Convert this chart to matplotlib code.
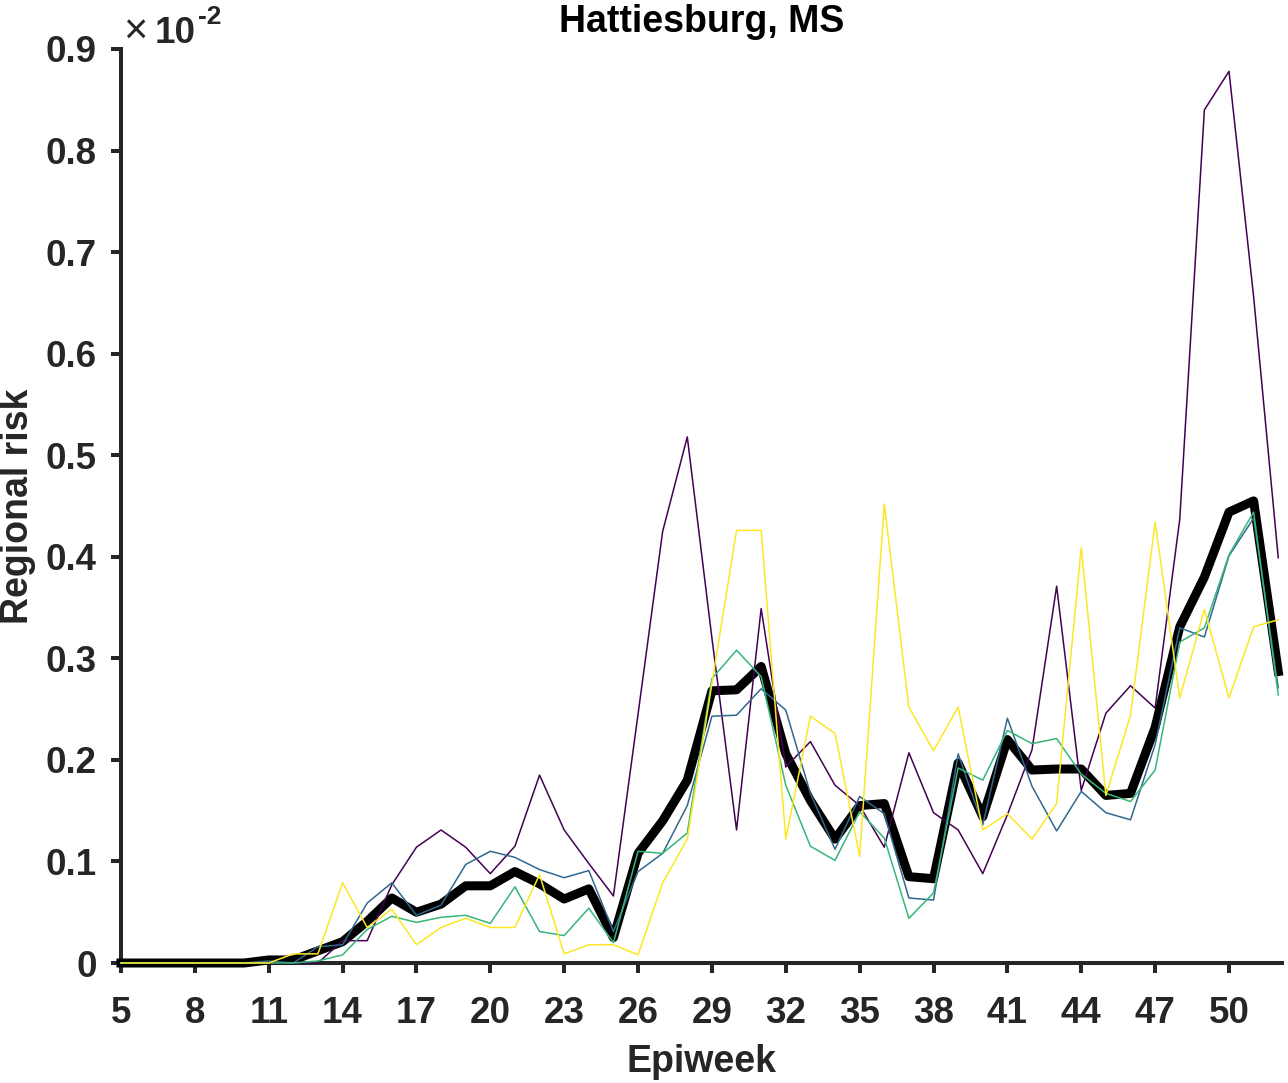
import numpy as np
import matplotlib
matplotlib.use('Agg')
import matplotlib.pyplot as plt

plt.rcParams['font.family'] = ['Liberation Sans', 'DejaVu Sans']
plt.rcParams['font.weight'] = 'bold'

# epiweeks and regional risk (units of 1e-2)
weeks = list(range(5, 53))

mean_risk = [0, 0, 0, 0, 0, 0, 0.003, 0.003, 0.012, 0.021, 0.041, 0.064, 0.050, 0.058,
             0.076, 0.076, 0.090, 0.078, 0.063, 0.073, 0.025, 0.108, 0.140, 0.180,
             0.268, 0.269, 0.292, 0.206, 0.160, 0.122, 0.155, 0.157, 0.085, 0.083,
             0.197, 0.144, 0.220, 0.190, 0.191, 0.191, 0.165, 0.167, 0.232, 0.331,
             0.380, 0.444, 0.455, 0.287]

risk_a = [0, 0, 0, 0, 0, 0, 0, 0, 0, 0.022, 0.022, 0.077, 0.114, 0.131,
          0.114, 0.088, 0.115, 0.185, 0.131, 0.098, 0.066, 0.245, 0.425, 0.518,
          0.320, 0.131, 0.349, 0.193, 0.218, 0.175, 0.155, 0.114, 0.207, 0.148,
          0.131, 0.088, 0.146, 0.210, 0.371, 0.170, 0.246, 0.273, 0.251, 0.437,
          0.840, 0.878, 0.656, 0.399]

risk_b = [0, 0, 0, 0, 0, 0, 0.002, 0, 0.016, 0.018, 0.059, 0.079, 0.047, 0.057,
          0.097, 0.110, 0.104, 0.092, 0.084, 0.091, 0.031, 0.090, 0.108, 0.155,
          0.243, 0.244, 0.270, 0.249, 0.167, 0.112, 0.164, 0.147, 0.064, 0.062,
          0.206, 0.136, 0.241, 0.174, 0.130, 0.169, 0.148, 0.141, 0.215, 0.330,
          0.321, 0.401, 0.438, 0.271]

risk_c = [0, 0, 0, 0, 0, 0, 0, 0, 0.002, 0.008, 0.033, 0.046, 0.040, 0.045,
          0.047, 0.039, 0.075, 0.031, 0.027, 0.054, 0.020, 0.110, 0.108, 0.128,
          0.280, 0.308, 0.282, 0.175, 0.115, 0.101, 0.149, 0.123, 0.044, 0.069,
          0.192, 0.180, 0.229, 0.216, 0.221, 0.186, 0.167, 0.159, 0.190, 0.316,
          0.330, 0.402, 0.444, 0.264]

risk_d = [0, 0, 0, 0, 0, 0, 0, 0.009, 0.009, 0.079, 0.035, 0.053, 0.018, 0.035,
          0.044, 0.035, 0.035, 0.087, 0.009, 0.018, 0.018, 0.008, 0.079, 0.122,
          0.275, 0.426, 0.426, 0.122, 0.243, 0.226, 0.105, 0.452, 0.252, 0.209,
          0.252, 0.131, 0.147, 0.122, 0.157, 0.409, 0.165, 0.244, 0.434, 0.261,
          0.348, 0.261, 0.331, 0.338]

colors = ['#440154', '#31688e', '#35b779', '#fde725']

fig = plt.figure(figsize=(12.88, 10.83), dpi=100)
ax = fig.add_axes([0.0939, 0.1108, 0.9014, 0.844])

ax.plot(weeks, mean_risk, color='black', lw=6.5, clip_on=False, zorder=3,
        solid_joinstyle='round')
for series, c in zip([risk_a, risk_b, risk_c, risk_d], colors):
    ax.plot(weeks, series, color=c, lw=1.1, clip_on=False, zorder=4)

ax.set_xlim(5, 52.15)
ax.set_ylim(0, 0.9)
ax.set_xticks(range(5, 51, 3))
ax.set_yticks(np.arange(0, 0.91, 0.1))
ax.set_yticklabels(['0'] + [f'{v:.1f}' for v in np.arange(0.1, 0.91, 0.1)])

for side in ['top', 'right']:
    ax.spines[side].set_visible(False)
for side in ['left', 'bottom']:
    ax.spines[side].set_linewidth(2.9)
    ax.spines[side].set_color('#262626')

ax.tick_params(direction='out', length=7.5, width=2.9, color='#262626',
               labelsize=26.5, labelcolor='#262626')
ax.tick_params(axis='x', pad=16.5)
ax.tick_params(axis='y', pad=10)

ax.set_xlabel('Epiweek', fontsize=27, fontweight='bold', color='#262626', labelpad=9)
ax.set_ylabel('Regional risk', fontsize=27, fontweight='bold', color='#262626', labelpad=7)
ax.set_title('Hattiesburg, MS', fontsize=27, fontweight='bold', color='black', pad=12)

# exponent label
ax.text(0.002, 0.996, '\u00d7', transform=ax.transAxes, fontsize=30,
        fontweight='normal', color='#262626', ha='left', va='bottom')
ax.text(0.029, 0.998, '10', transform=ax.transAxes, fontsize=26.5,
        fontweight='bold', color='#262626', ha='left', va='bottom')
ax.text(0.066, 1.022, '-2', transform=ax.transAxes, fontsize=19,
        fontweight='bold', color='#262626', ha='left', va='bottom')

fig.savefig('out.png', dpi=100)
